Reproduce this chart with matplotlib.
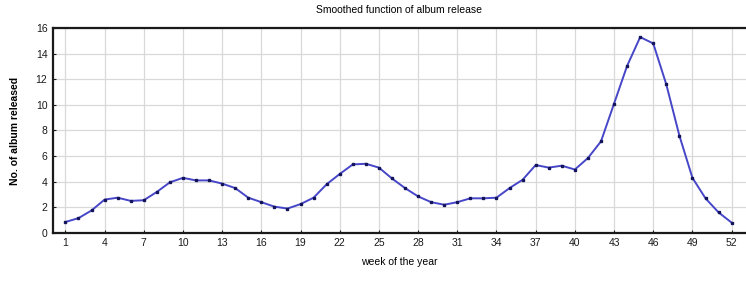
import numpy as np
import matplotlib
matplotlib.use("Agg")
import matplotlib.pyplot as plt

plt.rcParams["font.family"] = ["Liberation Sans", "DejaVu Sans"]
plt.rcParams["font.size"] = 7.5

# 数据：每周专辑发行数（平滑后）
weeks = list(range(1, 53))
albums = [0.85, 1.15, 1.75, 2.6, 2.75, 2.5, 2.55, 3.2, 3.95, 4.3,
          4.1, 4.1, 3.85, 3.5, 2.75, 2.4, 2.05, 1.9, 2.25, 2.75,
          3.8, 4.6, 5.35, 5.4, 5.1, 4.25, 3.5, 2.85, 2.4, 2.2,
          2.4, 2.7, 2.7, 2.75, 3.5, 4.15, 5.3, 5.1, 5.25, 4.95,
          5.85, 7.15, 10.1, 13.05, 15.3, 14.8, 11.6, 7.6, 4.3, 2.7,
          1.6, 0.8]
xticks = list(range(1, 53, 3))
yticks = list(range(0, 17, 2))

fig = plt.figure(figsize=(7.46, 2.84), dpi=100)
ax = fig.add_axes([0.071, 0.18, 0.929, 0.721])

ax.plot(weeks, albums, "-", color="#4646c8", linewidth=1.4, zorder=3)
ax.plot(weeks, albums, "s", color="#14145a", markersize=1.9, zorder=4)

ax.set_xlim(0.05, 53.1)
ax.set_ylim(0, 16)
ax.set_xticks(xticks)
ax.set_yticks(yticks)
ax.grid(True, color="#d9d9d9", linewidth=0.9)
ax.set_axisbelow(True)

for s in ["left", "bottom", "top"]:
    ax.spines[s].set_linewidth(1.6)
    ax.spines[s].set_color("#1a1a1a")
ax.spines["right"].set_visible(False)
ax.tick_params(direction="in", length=2, width=0.8, colors="#1a1a1a", pad=4)

ax.set_title("Smoothed function of album release", fontsize=7.5, pad=11)
ax.set_xlabel("week of the year", fontsize=7.5, labelpad=6)
ax.set_ylabel("No. of album released", fontsize=7.5, fontweight="bold", labelpad=11)

fig.savefig("out.png", dpi=100)
